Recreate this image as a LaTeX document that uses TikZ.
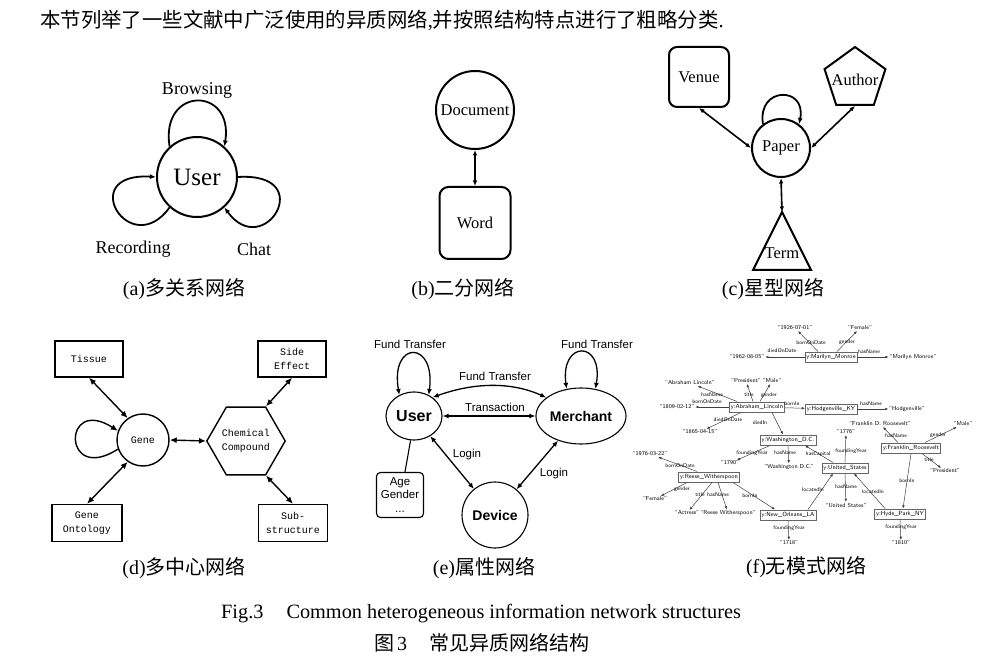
\documentclass[tikz,border=0pt]{standalone}
\usepackage{fontspec}
\setmainfont{Liberation Serif}
\newfontfamily\cjk{Noto Sans CJK SC}
\newfontfamily\monof{Liberation Mono}
\newfontfamily\arialf{Liberation Sans}
\usetikzlibrary{arrows.meta,shapes.geometric}
\begin{document}
\begin{tikzpicture}[x=1pt,y=-1pt]
\tikzset{
  capt/.style={inner sep=0pt,font=\fontsize{20}{24}\selectfont},
  tnode/.style={font=\fontsize{16.5}{18}\selectfont},
  alab/.style={inner sep=0pt,font=\fontsize{18}{20}\selectfont},
  aArrow/.style={line width=1.8pt,-{Latex[length=6pt,width=5pt]}},
  dblA/.style={line width=1.6pt,{Latex[length=5.5pt,width=4.5pt]}-{Latex[length=5.5pt,width=4.5pt]}},
  dbox/.style={draw,line width=1.4pt,minimum width=68pt,minimum height=36pt,inner sep=0pt,font=\monof\fontsize{10}{14.3}\selectfont,align=center},
  dArrow/.style={line width=1.4pt,-{Latex[length=7pt,width=6pt]}},
  ddbl/.style={line width=1.4pt,{Latex[length=7pt,width=6pt]}-{Latex[length=7pt,width=6pt]}},
  ebold/.style={draw,line width=1.1pt,inner sep=0pt,font=\arialf\bfseries\fontsize{14}{14}\selectfont},
  elab/.style={inner sep=0pt,font=\arialf\fontsize{11.5}{13}\selectfont},
  edbl/.style={line width=1.3pt,{Latex[length=6pt,width=5pt]}-{Latex[length=6pt,width=5pt]}},
  fb/.style={draw=black!60,line width=0.5pt,inner sep=1.6pt,minimum height=10.5pt,font=\sffamily\fontsize{6}{6}\selectfont},
  fl/.style={inner sep=0.8pt,font=\sffamily\fontsize{5.8}{6}\selectfont},
  flab/.style={inner sep=0pt,font=\sffamily\fontsize{5.4}{6}\selectfont},
  fe/.style={draw=black!75,line width=0.5pt,-{Latex[length=3.2pt,width=2.6pt]}}
}
\useasboundingbox (0,0) rectangle (1001,660);
\fill[white] (0,0) rectangle (1001,660);

% intro line
\node[anchor=west,inner sep=0pt,font=\fontsize{20.4}{22}\selectfont] (intro) at (40,20)
  {\cjk 本节列举了一些文献中广泛使用的异质网络{\rmfamily ,}并按照结构特点进行了粗略分类{\rmfamily .}};

% ---------- (a)
\node[circle,draw,line width=2pt,minimum size=80pt,inner sep=0pt,font=\fontsize{25}{25}\selectfont] (au) at (197,177) {User};
\draw[aArrow] (au.132) .. controls (160,86) and (234,86) .. (au.48);
\draw[aArrow] (au.228) .. controls (130,262) and (75,172) .. (au.180);
\draw[aArrow] (au.0) .. controls (319,172) and (264,262) .. (au.312);
\node[alab] (abr) at (197,90) {Browsing};
\node[alab] (arec) at (133,249) {Recording};
\node[alab] (achat) at (254,249) {Chat};
\node[capt] (capa) at (184,289) {(a){\cjk 多关系网络}};

% ---------- (b)
\node[circle,draw,line width=2pt,minimum size=78pt,inner sep=0pt,tnode] (bd) at (475,110) {Document};
\node[draw,rounded corners=9pt,line width=2pt,minimum width=71pt,minimum height=72pt,tnode] (bw) at (475,223) {Word};
\draw[dblA] (bd) -- (bw);
\node[capt] (capb) at (463,289) {(b){\cjk 二分网络}};

% ---------- (c)
\node[draw,rounded corners=8pt,line width=2pt,minimum width=60pt,minimum height=60pt,tnode] (cv) at (699,77) {Venue};
\node[regular polygon,regular polygon sides=5,draw,line width=2pt,minimum size=64pt,inner sep=0pt] (ca) at (855,79) {};
\node[tnode,inner sep=0pt] (catx) at (855,80) {Author};
\node[circle,draw,line width=2pt,minimum size=58pt,inner sep=0pt,tnode] (cp) at (781,148) {Paper};
\coordinate (ctop) at (782,212);
\draw[line width=2pt,line join=miter] (ctop) -- (811,270) -- (753,270) -- cycle;
\node[tnode,inner sep=0pt] (ct) at (782,253) {Term};
\draw[aArrow] (cp.127) .. controls (757,86) and (807,86) .. (cp.53);
\draw[dblA] (cv.south) -- (cp.west);
\draw[dblA] (ca.south) -- (cp.east);
\draw[dblA] (cp.south) -- (ctop);
\node[capt] (capc) at (773,289) {(c){\cjk 星型网络}};

% ---------- (d)
\node[dbox] (dt) at (89,359) {Tissue};
\node[dbox] (dse) at (292,359) {Side\\Effect};
\node[dbox,minimum width=70pt,minimum height=37pt] (dgo) at (87,523) {Gene\\Ontology};
\node[dbox,minimum width=69pt,minimum height=37pt] (dss) at (293,523) {Sub-\\structure};
\node[circle,draw,line width=1.4pt,minimum size=52pt,inner sep=0pt,font=\monof\fontsize{10}{12}\selectfont] (dg) at (143,440) {Gene};
\node[regular polygon,regular polygon sides=6,draw,line width=1.4pt,minimum size=66pt,inner sep=0pt,font=\monof\fontsize{10}{14.3}\selectfont,align=center] (dh) at (246,441) {Chemical\\Compound};
\draw[dArrow] (dg.200) .. controls (62,485) and (62,395) .. (dg.160);
\draw[ddbl] (dt.south) -- (dg.125);
\draw[ddbl] (dgo.north) -- (dg.235);
\draw[ddbl] (dse.south) -- (dh.60);
\draw[ddbl] (dss.north) -- (dh.300);
\draw[ddbl] (dg.east) -- (dh.west);
\node[capt] (capd) at (184,568) {(d){\cjk 多中心网络}};

% ---------- (e)
\node[ebold,ellipse,minimum width=56pt,minimum height=48pt,font=\arialf\bfseries\fontsize{16}{16}\selectfont] (eu) at (414,416) {User};
\node[ebold,ellipse,minimum width=90pt,minimum height=56pt] (em) at (581,416) {Merchant};
\node[ebold,circle,minimum size=66pt] (ed) at (495,515) {Device};
\draw[edbl] (eu.125) .. controls (390,340) and (436,340) .. (eu.55);
\draw[edbl] (em.118) .. controls (560,340) and (604,340) .. (em.62);
\draw[edbl] (eu.45) .. controls (475,382) and (512,382) .. (em.152);
\draw[edbl] (eu.east) -- (em.west);
\draw[edbl] (eu.309) -- (ed.129);
\draw[edbl] (em.227) -- (ed.50);
\node[elab] (eft1) at (410,344) {Fund Transfer};
\node[elab] (eft2) at (597,344) {Fund Transfer};
\node[elab] (eft3) at (495,376) {Fund Transfer};
\node[elab] (etr) at (495,407) {Transaction};
\node[elab] (elg1) at (467,455) {Login};
\node[elab] (elg2) at (554,474) {Login};
\node[draw,rounded corners=4pt,line width=1.1pt,minimum width=47pt,minimum height=45pt,inner sep=1pt,align=center,font=\arialf\fontsize{11.5}{13.5}\selectfont] (eab) at (400,495) {Age\\Gender\\...};
\draw[line width=1.1pt] (eu.262) -- ([xshift=5pt]eab.north);
\node[capt] (cape) at (484,568) {(e){\cjk 属性网络}};

% ---------- (f)
\node[fb] (mm) at (831,357) {y:Marilyn\_Monroe};
\node[fb] (al) at (757,407) {y:Abraham\_Lincoln};
\node[fb] (hk) at (831,409) {y:Hodgenville\_KY};
\node[fb] (wdc) at (788,440) {y:Washington\_D.C.};
\node[fb] (us) at (845,468) {y:United\_States};
\node[fb] (fr) at (911,448) {y:Franklin\_Roosevelt};
\node[fb] (rw) at (709,477) {y:Reese\_Witherspoon};
\node[fb] (no) at (788,515) {y:New\_Orleans\_LA};
\node[fb] (hp) at (900,514) {y:Hyde\_Park\_NY};

\node[fl] (l1926) at (795,328) {“1926-07-01”};
\node[fl] (lfem1) at (860,328) {“Female”};
\node[fl] (l1962) at (747,357) {“1962-08-05”};
\node[fl] (lmmn) at (913,357) {“Marilyn Monroe”};
\node[fl] (lal) at (690,383) {“Abraham Lincoln”};
\node[fl] (lpres1) at (746,381) {“President”};
\node[fl] (lmale1) at (772,381) {“Male”};
\node[fl] (l1809) at (677,407) {“1809-02-12”};
\node[fl] (lhodg) at (907,409) {“Hodgenville”};
\node[fl] (l1865) at (700,432) {“1865-04-15”};
\node[fl] (l1790) at (730,463) {“1790”};
\node[fl] (lwdc) at (789,467) {“Washington D.C.”};
\node[fl] (l1776) at (846,432) {“1776”};
\node[fl] (lusn) at (846,505) {“United States”};
\node[fl] (lfdr) at (880,424) {“Franklin D. Roosevelt”};
\node[fl] (lmale2) at (963,424) {“Male”};
\node[fl] (lpres2) at (945,471) {“President”};
\node[fl] (l1976) at (650,454) {“1976-03-22”};
\node[fl] (lfem2) at (655,499) {“Female”};
\node[fl] (lact) at (687,513) {“Actress”};
\node[fl] (lrwn) at (728,513) {“Reese Witherspoon”};
\node[fl] (l1718) at (789,543) {“1718”};
\node[fl] (l1810) at (901,543) {“1810”};

\draw[fe] ([xshift=-13pt]mm.north) -- (l1926);
\draw[fe] ([xshift=6pt]mm.north) -- (lfem1);
\draw[fe] (mm.west) -- (l1962);
\draw[fe] (mm.east) -- (lmmn);
\draw[fe] ([xshift=-20pt]al.north) -- (lal);
\draw[fe] ([xshift=-4pt]al.north) -- (lpres1);
\draw[fe] ([xshift=3pt]al.north) -- (lmale1);
\draw[fe] (al.west) -- (l1809);
\draw[fe] (al) -- (hk);
\draw[fe] (hk.east) -- (lhodg);
\draw[fe] ([xshift=-16pt]al.south) -- (l1865);
\draw[fe] ([xshift=15pt]al.south) -- ([xshift=-5pt]wdc.north);
\draw[fe] ([xshift=-18pt]wdc.south) -- (l1790);
\draw[fe] (wdc.south) -- (lwdc);
\draw[fe] ([xshift=-12pt]us.north) -- ([xshift=17pt]wdc.south);
\draw[fe] (us.north) -- (l1776);
\draw[fe] (us.south) -- (lusn);
\draw[fe] ([xshift=-13pt]fr.north) -- (lfdr);
\draw[fe] ([xshift=14pt]fr.north) -- (lmale2);
\draw[fe] ([xshift=11pt]fr.south) -- (lpres2);
\draw[fe] (fr.south) -- ([xshift=3pt]hp.north);
\draw[fe] ([xshift=-15pt]hp.north) -- ([xshift=9pt]us.south);
\draw[fe] ([xshift=20pt]no.north) -- ([xshift=-12pt]us.south);
\draw[fe] (hp.south) -- (l1810);
\draw[fe] (no.south) -- (l1718);
\draw[fe] ([xshift=-12pt]rw.north) -- (l1976);
\draw[fe] ([xshift=-22pt]rw.south) -- (lfem2);
\draw[fe] ([xshift=3pt]rw.south) -- (lact);
\draw[fe] ([xshift=9pt]rw.south) -- (lrwn);
\draw[fe] ([xshift=24pt]rw.south) -- ([xshift=-13pt]no.north);

\node[flab] (fa1) at (811,343) {bornOnDate};
\node[flab] (fa2) at (847,342) {gender};
\node[flab] (fa3) at (782,351) {diedOnDate};
\node[flab] (fa4) at (869,352) {hasName};
\node[flab] (fa5) at (712,395) {hasName};
\node[flab] (fa6) at (749,395) {title};
\node[flab] (fa7) at (769,395) {gender};
\node[flab] (fa8) at (707,402) {bornOnDate};
\node[flab] (fa9) at (792,404) {bornIn};
\node[flab] (fa10) at (871,404) {hasName};
\node[flab] (fa11) at (728,420) {diedOnDate};
\node[flab] (fa12) at (760,423) {diedIn};
\node[flab] (fa13) at (752,453) {foundingYear};
\node[flab] (fa14) at (785,453) {hasName};
\node[flab] (fa15) at (818,454) {hasCapital};
\node[flab] (fa16) at (851,451) {foundingYear};
\node[flab] (fa17) at (846,487) {hasName};
\node[flab] (fa18) at (896,436) {hasName};
\node[flab] (fa19) at (938,435) {gender};
\node[flab] (fa20) at (929,460) {title};
\node[flab] (fa21) at (907,481) {bornIn};
\node[flab] (fa22) at (873,492) {locatedIn};
\node[flab] (fa23) at (813,490) {locatedIn};
\node[flab] (fa24) at (901,527) {foundingYear};
\node[flab] (fa25) at (789,528) {foundingYear};
\node[flab] (fa26) at (680,466) {bornOnDate};
\node[flab] (fa27) at (682,489) {gender};
\node[flab] (fa28) at (700,495) {title};
\node[flab] (fa29) at (718,495) {hasName};
\node[flab] (fa30) at (750,496) {bornIn};
\node[capt] (capf) at (806,567) {(f){\cjk 无模式网络}};

% ---------- figure captions
\node[capt,anchor=west,font=\fontsize{20.3}{24}\selectfont] (figen) at (221,614) {Fig.3\hspace{23pt}Common heterogeneous information network structures};
\node[capt,anchor=west] (figcn) at (374,643) {{\cjk 图}\hspace{3pt}3\hspace{22pt}{\cjk 常见异质网络结构}};
\end{tikzpicture}
\end{document}
